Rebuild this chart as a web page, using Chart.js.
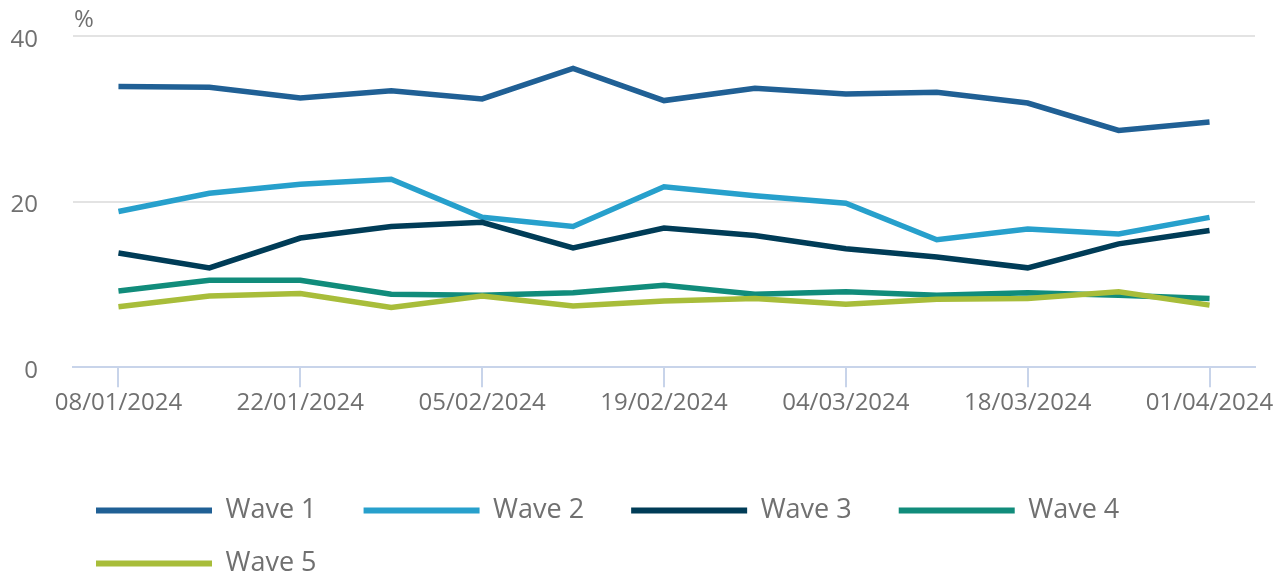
<!DOCTYPE html>
<html>
<head>
<meta charset="utf-8">
<script src="https://cdn.jsdelivr.net/npm/chart.js@4"></script>
<style>
  body { margin: 0; background: #fff; }
</style>
</head>
<body>
<canvas id="c" width="1285" height="577"></canvas>
<script>
// ------- Data -------
const weeks = ['08/01/2024','15/01/2024','22/01/2024','29/01/2024','05/02/2024','12/02/2024','19/02/2024',
               '26/02/2024','04/03/2024','11/03/2024','18/03/2024','25/03/2024','01/04/2024'];
const wave1 = [33.9, 33.8, 32.5, 33.4, 32.4, 36.1, 32.2, 33.7, 33.0, 33.2, 31.9, 28.6, 29.6];
const wave2 = [18.8, 21.0, 22.1, 22.7, 18.1, 17.0, 21.8, 20.7, 19.8, 15.4, 16.7, 16.1, 18.1];
const wave3 = [13.8, 12.0, 15.6, 17.0, 17.5, 14.4, 16.8, 15.9, 14.3, 13.3, 12.0, 14.9, 16.5];
const wave4 = [9.2, 10.5, 10.5, 8.8, 8.7, 9.0, 9.9, 8.8, 9.1, 8.7, 9.0, 8.7, 8.3];
const wave5 = [7.3, 8.6, 8.9, 7.2, 8.6, 7.4, 8.0, 8.3, 7.6, 8.2, 8.3, 9.1, 7.5];
const seriesNames = ['Wave 1', 'Wave 2', 'Wave 3', 'Wave 4', 'Wave 5'];
const yTicks = [0, 20, 40];

const colors = ['#206095', '#27a0cc', '#003c57', '#118c7b', '#a8bd3a'];
const textCol = '#707070';
const axisCol = '#c8d4ea';
const FONT = '"Open Sans", "Noto Sans", sans-serif';

const datasets = [wave1, wave2, wave3, wave4, wave5].map((d, i) => ({
  label: seriesNames[i],
  data: d,
  borderColor: colors[i],
  backgroundColor: colors[i],
  borderWidth: 5.5,
  pointRadius: 0,
  tension: 0,
  order: 5 - i // later waves drawn on top
}));

// "%" unit label above the y axis + legend placement
const extras = {
  id: 'extras',
  afterLayout(chart) {
    const lg = chart.legend;
    lg.left = 70;
    lg.top = 471;
    lg.bottom = 577;
    lg.height = lg.bottom - lg.top;
  },
  afterDraw(chart) {
    const { ctx, chartArea } = chart;
    ctx.save();
    ctx.font = '24px ' + FONT;
    ctx.fillStyle = textCol;
    ctx.textBaseline = 'bottom';
    ctx.textAlign = 'left';
    ctx.fillText('%', chartArea.left + 1, chartArea.top - 4);
    ctx.restore();
  }
};

new Chart(document.getElementById('c'), {
  type: 'line',
  data: { labels: weeks, datasets },
  options: {
    responsive: false,
    animation: false,
    layout: { padding: { left: 10, right: 30, top: 36, bottom: 41 } },
    plugins: {
      tooltip: { enabled: false },
      legend: {
        position: 'bottom',
        align: 'start',
        labels: {
          boxWidth: 116,
          boxHeight: 6,
          padding: 26,
          color: textCol,
          font: { family: FONT, size: 27 },
          generateLabels: (chart) => chart.data.datasets.map((ds, i) => ({
            text: ds.label + '   ',
            fillStyle: ds.borderColor,
            strokeStyle: ds.borderColor,
            lineWidth: 0,
            fontColor: textCol,
            datasetIndex: i
          }))
        }
      }
    },
    scales: {
      x: {
        offset: true,
        afterFit: (s) => { s.paddingLeft = 0; s.paddingRight = 0; },
        grid: {
          offset: false,
          drawOnChartArea: false,
          drawTicks: true,
          tickLength: 20,
          lineWidth: 2,
          color: (c) => (c.index % 2 === 0 ? axisCol : 'rgba(0,0,0,0)')
        },
        border: { display: true, color: axisCol, width: 2 },
        ticks: {
          autoSkip: false,
          maxRotation: 0,
          padding: 2,
          color: textCol,
          font: { family: FONT, size: 24 },
          callback: (v, i) => (i % 2 === 0 ? weeks[i] : '')
        }
      },
      y: {
        min: yTicks[0],
        max: yTicks[yTicks.length - 1],
        afterBuildTicks: (s) => { s.ticks = yTicks.map(v => ({ value: v })); },
        afterFit: (s) => { s.width = 63; s.paddingTop = 0; s.paddingBottom = 0; },
        grid: { color: '#e3e3e3', lineWidth: 2, drawTicks: false },
        border: { display: false },
        ticks: {
          padding: 35,
          labelOffset: 4,
          color: textCol,
          font: { family: FONT, size: 24 }
        }
      }
    }
  },
  plugins: [extras]
});
</script>
</body>
</html>
